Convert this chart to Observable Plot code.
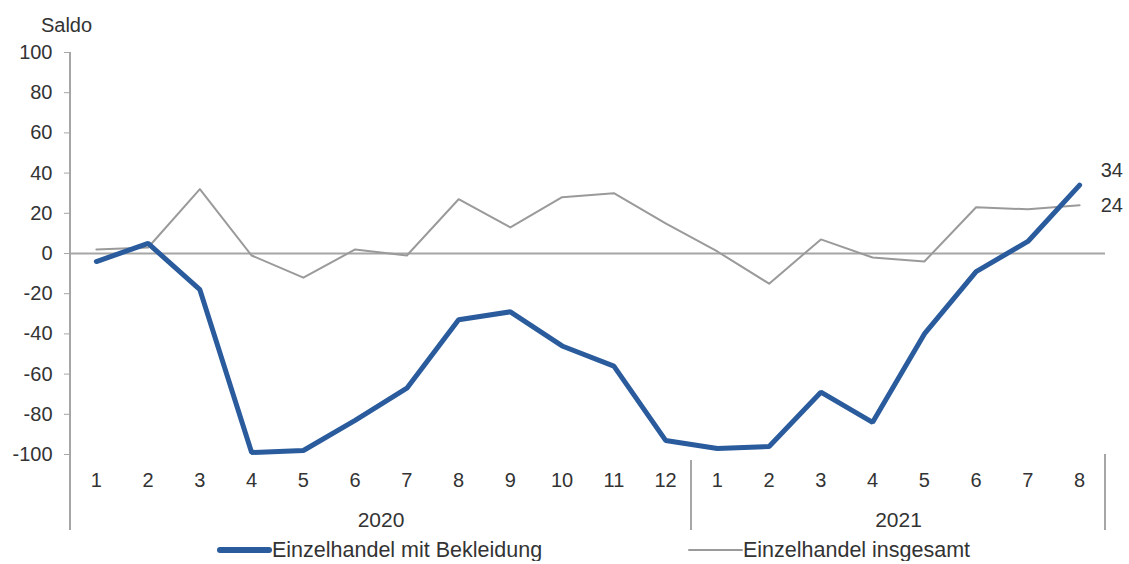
<!DOCTYPE html>
<html><head><meta charset="utf-8">
<script src="https://cdn.jsdelivr.net/npm/d3@7"></script>
<script src="https://cdn.jsdelivr.net/npm/@observablehq/plot@0.6"></script>
<style>
body{margin:0;background:#fff;font-family:"Liberation Sans",Arial,sans-serif;}
#chart svg{display:block}
#legend{position:relative;height:22px;margin-top:-1px;font-size:21.5px;line-height:22px;color:#333;}
.item{position:absolute;top:0;display:flex;align-items:center;height:22px;white-space:nowrap}
.sw{display:inline-block;width:55px;border-radius:3px}
</style></head><body>
<div id="chart"></div>
<div id="legend"></div>
<script>
const yearLabels = ["2020", "2021"];
const monthLabels = ["1","2","3","4","5","6","7","8","9","10","11","12","1","2","3","4","5","6","7","8"];
const yearOfMonth = ["2020","2020","2020","2020","2020","2020","2020","2020","2020","2020","2020","2020","2021","2021","2021","2021","2021","2021","2021","2021"];
const clothing = [-4, 5, -18, -99, -98, -83, -67, -33, -29, -46, -56, -93, -97, -96, -69, -84, -40, -9, 6, 34];
const total = [2, 3, 32, -1, -12, 2, -1, 27, 13, 28, 30, 15, 1, -15, 7, -2, -4, 23, 22, 24];
const seriesNames = ["Einzelhandel mit Bekleidung", "Einzelhandel insgesamt"];
const seriesColors = ["#2a5b9c", "#9a9a9a"];
const yTicks = [-100, -80, -60, -40, -20, 0, 20, 40, 60, 80, 100];
const yLabel = "Saldo";

const rows = monthLabels.map((m, i) => ({i, month: m, year: yearOfMonth[i], clothing: clothing[i], total: total[i]}));
const years = yearLabels.map(y => {
  const idx = rows.filter(r => r.year === y).map(r => r.i);
  const lo = d3.min(idx), hi = d3.max(idx);
  return {year: y, center: (lo + hi) / 2, start: lo - 0.5, end: hi + 0.5};
});
const last = rows[rows.length - 1];
const font = "'Liberation Sans', Arial, sans-serif";

const plot = Plot.plot({
  width: 1129, height: 540,
  marginLeft: 70, marginRight: 24, marginTop: 52, marginBottom: 86,
  style: {fontFamily: font, fontSize: "20px", color: "#333", background: "#fff", overflow: "visible"},
  x: {type: "linear", domain: [-0.5, rows.length - 0.5]},
  y: {domain: [-100, 100]},
  marks: [
    Plot.ruleY([0], {stroke: "#a6a6a6", strokeWidth: 2}),
    Plot.axisY({ticks: yTicks, tickSize: 6, tickPadding: 12, stroke: "#a6a6a6", fill: "#333", label: null, tickFormat: d => String(d)}),
    Plot.axisX({ticks: rows.map(d => d.i), tickFormat: i => monthLabels[i], tickSize: 0, tickPadding: 18, label: null, fill: "#333"}),
    Plot.line(rows, {x: "i", y: "total", stroke: seriesColors[1], strokeWidth: 2}),
    Plot.line(rows, {x: "i", y: "clothing", stroke: seriesColors[0], strokeWidth: 5, strokeLinecap: "round", strokeLinejoin: "miter"}),
    Plot.text(years, {x: "center", text: "year", frameAnchor: "bottom", lineAnchor: "middle", dy: 66, fontSize: 21, fill: "#333"}),
    Plot.text([last], {x: "i", y: "clothing", text: d => String(d.clothing), dx: 21, dy: -15, textAnchor: "start", lineAnchor: "middle", fill: "#333"}),
    Plot.text([last], {x: "i", y: "total", text: d => String(d.total), dx: 21, textAnchor: "start", lineAnchor: "middle", fill: "#333"}),
    Plot.text([yLabel], {frameAnchor: "top-left", textAnchor: "middle", lineAnchor: "middle", dx: -4, dy: -27, fill: "#333"})
  ]
});

// year separators drawn with the plot's own scales
const xs = plot.scale("x"), ys = plot.scale("y");
const svg = d3.select(plot);
const yBottom = ys.apply(-100), yTop = ys.apply(100);
const seps = [years[0].start, ...years.map(y => y.end)];
seps.forEach((s, k) => {
  svg.append("line")
    .attr("x1", xs.apply(s)).attr("x2", xs.apply(s))
    .attr("y1", k === 0 ? yTop : yBottom + (k === seps.length - 1 ? 0 : 6))
    .attr("y2", yBottom + 76)
    .attr("stroke", "#a6a6a6").attr("stroke-width", 2);
});
document.getElementById("chart").append(plot);

const legend = d3.select("#legend");
const lefts = [217, 688];
const widths = [6, 2];
seriesNames.forEach((name, k) => {
  const it = legend.append("div").attr("class", "item").style("left", lefts[k] + "px");
  it.append("span").attr("class", "sw").style("height", widths[k] + "px").style("background", seriesColors[k]);
  it.append("span").text(name);
});
</script>
</body></html>
